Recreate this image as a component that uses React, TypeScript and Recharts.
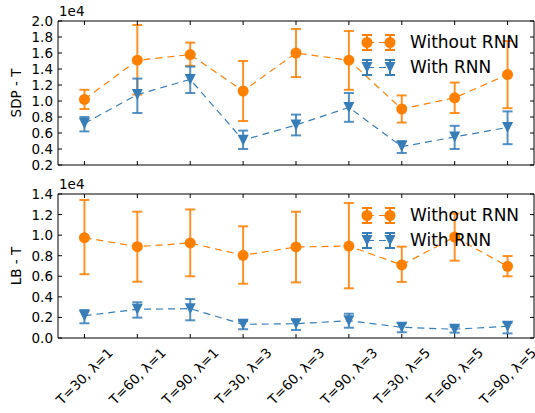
// Two stacked panels: SDP - T and LB - T, with / without RNN
import React from "react";
import { LineChart, Line, XAxis, YAxis, ErrorBar, Legend } from "recharts";

const labels = [
  "T=30, λ=1", "T=60, λ=1", "T=90, λ=1",
  "T=30, λ=3", "T=60, λ=3", "T=90, λ=3",
  "T=30, λ=5", "T=60, λ=5", "T=90, λ=5",
];

// SDP - T (raw values, axis shows them in units of 1e4)
const sdpWithout = [10200, 15100, 15800, 11250, 16000, 15100, 9000, 10400, 13300];
const sdpWithoutLow = [9000, 10800, 14400, 7500, 13000, 11400, 7300, 8500, 9100];
const sdpWithoutHigh = [11400, 19500, 17300, 15000, 19000, 18750, 10700, 12300, 17500];
const sdpWith = [7200, 10800, 12700, 5100, 7000, 9200, 4300, 5500, 6700];
const sdpWithLow = [6200, 8500, 11000, 4000, 5700, 7400, 3500, 4000, 4600];
const sdpWithHigh = [8000, 12800, 14300, 6300, 8300, 11000, 5000, 6900, 8700];

// LB - T
const lbWithout = [9750, 8880, 9240, 8040, 8850, 8940, 7100, 9820, 6970];
const lbWithoutLow = [6200, 5470, 6000, 5280, 5410, 4830, 5450, 7520, 6000];
const lbWithoutHigh = [13420, 12280, 12500, 10860, 12280, 13120, 8880, 12100, 7970];
const lbWith = [2170, 2790, 2850, 1330, 1390, 1680, 1040, 850, 1140];
const lbWithLow = [1430, 1980, 1720, 850, 780, 1000, 560, 520, 450];
const lbWithHigh = [2720, 3470, 3790, 1650, 1780, 2360, 1430, 1100, 1490];

const sdpTicks = [2000, 4000, 6000, 8000, 10000, 12000, 14000, 16000, 18000, 20000];
const lbTicks = [0, 2000, 4000, 6000, 8000, 10000, 12000, 14000];
const idxTicks = labels.map((_, i) => i);

const ORANGE = "#ff7f00";
const BLUE = "#377eb8";
const FONT = "DejaVu Sans, sans-serif";
const W = 535;

function buildRows(a, aLo, aHi, b, bLo, bHi) {
  return labels.map((name, i) => ({
    idx: i,
    name,
    without: a[i],
    withoutErr: [a[i] - aLo[i], aHi[i] - a[i]],
    with: b[i],
    withErr: [b[i] - bLo[i], bHi[i] - b[i]],
  }));
}

const sdpRows = buildRows(sdpWithout, sdpWithoutLow, sdpWithoutHigh, sdpWith, sdpWithLow, sdpWithHigh);
const lbRows = buildRows(lbWithout, lbWithoutLow, lbWithoutHigh, lbWith, lbWithLow, lbWithHigh);

const R = 5.5;
const circleDot = (p) => (
  <circle key={"c" + p.index} cx={p.cx} cy={p.cy} r={R} fill={ORANGE} />
);
const triDot = (p) => (
  <path
    key={"t" + p.index}
    d={`M${p.cx - R},${p.cy - R}L${p.cx + R},${p.cy - R}L${p.cx},${p.cy + R}Z`}
    fill={BLUE}
  />
);

// ticks point inwards, like the classic matplotlib style
const LeftTick = ({ x, y, payload }) => (
  <g>
    <line x1={x} x2={x + 4} y1={y} y2={y} stroke="#000" />
    <text x={x - 5} y={y} textAnchor="end" dominantBaseline="central" fontSize={13.5} fontFamily={FONT} fill="#000">
      {(payload.value / 1e4).toFixed(1)}
    </text>
  </g>
);
const RightTick = ({ x, y }) => <line x1={x} x2={x - 4} y1={y} y2={y} stroke="#000" />;
const TopTick = ({ x, y }) => <line x1={x} x2={x} y1={y} y2={y + 4} stroke="#000" />;
const BottomTick = ({ x, y, payload, showLabel }) => (
  <g>
    <line x1={x} x2={x} y1={y} y2={y - 4} stroke="#000" />
    {showLabel && (
      <text
        x={x}
        y={y + 38}
        textAnchor="middle"
        dominantBaseline="central"
        fontSize={13.5}
        fontFamily={FONT}
        fill="#000"
        transform={`rotate(-45 ${x} ${y + 38})`}
      >
        {labels[payload.value]}
      </text>
    )}
  </g>
);

const legendItems = [
  { name: "Without RNN", color: ORANGE, tri: false },
  { name: "With RNN", color: BLUE, tri: true },
];

const LegendMark = ({ cx, color, tri }) => (
  <g>
    <line x1={cx} x2={cx} y1={5} y2={20} stroke={color} strokeWidth={2} />
    <line x1={cx - 5} x2={cx + 5} y1={5} y2={5} stroke={color} strokeWidth={2} />
    <line x1={cx - 5} x2={cx + 5} y1={20} y2={20} stroke={color} strokeWidth={2} />
    {tri ? (
      <path d={`M${cx - R},${12.5 - R}L${cx + R},${12.5 - R}L${cx},${12.5 + R}Z`} fill={color} />
    ) : (
      <circle cx={cx} cy={12.5} r={R} fill={color} />
    )}
  </g>
);

const renderLegend = () => (
  <div style={{ fontFamily: FONT, fontSize: 17, color: "#000" }}>
    {legendItems.map((s) => (
      <div key={s.name} style={{ display: "flex", alignItems: "center", height: 25 }}>
        <svg width={52} height={25}>
          <line x1={9} x2={32} y1={12.5} y2={12.5} stroke={s.color} strokeDasharray="7 5" strokeWidth={1.2} />
          <LegendMark cx={9} color={s.color} tri={s.tri} />
          <LegendMark cx={32} color={s.color} tri={s.tri} />
        </svg>
        <span style={{ lineHeight: "25px" }}>{s.name}</span>
      </div>
    ))}
  </div>
);

function Panel({ rows, ticks, yLabel, top, height, showLabels }) {
  const domain = [ticks[0], ticks[ticks.length - 1]];
  return (
    <div style={{ position: "absolute", left: 0, top, width: W, height }}>
      <LineChart width={W} height={height} data={rows} margin={{ top: 20, right: 0, left: 57, bottom: height - 166 }}>
        <XAxis
          dataKey="idx"
          type="number"
          domain={[-0.5, 8.5]}
          ticks={idxTicks}
          interval={0}
          height={1}
          tickSize={0}
          tickMargin={0}
          stroke="#000"
          tick={(p) => <BottomTick {...p} showLabel={showLabels} />}
        />
        <XAxis
          xAxisId="top"
          orientation="top"
          dataKey="idx"
          type="number"
          domain={[-0.5, 8.5]}
          ticks={idxTicks}
          interval={0}
          height={1}
          tickSize={0}
          tickMargin={0}
          stroke="#000"
          tick={TopTick}
        />
        <YAxis
          type="number"
          domain={domain}
          ticks={ticks}
          interval={0}
          allowDataOverflow
          width={1}
          tickSize={0}
          tickMargin={0}
          stroke="#000"
          tick={LeftTick}
        />
        <YAxis
          yAxisId="right"
          orientation="right"
          type="number"
          domain={domain}
          ticks={ticks}
          interval={0}
          allowDataOverflow
          width={1}
          tickSize={0}
          tickMargin={0}
          stroke="#000"
          tick={RightTick}
        />
        <Legend
          content={renderLegend}
          layout="horizontal"
          align="center"
          verticalAlign="middle"
          wrapperStyle={{ left: 358, top: 30, width: "auto" }}
        />
        <Line
          dataKey="without"
          name="Without RNN"
          stroke={ORANGE}
          strokeWidth={1.2}
          strokeDasharray="7 5"
          dot={circleDot}
          activeDot={false}
          isAnimationActive={false}
        >
          <ErrorBar dataKey="withoutErr" width={5} strokeWidth={2} stroke={ORANGE} strokeOpacity={0.85} />
        </Line>
        <Line
          dataKey="with"
          name="With RNN"
          stroke={BLUE}
          strokeWidth={1.2}
          strokeDasharray="7 5"
          dot={triDot}
          activeDot={false}
          isAnimationActive={false}
        >
          <ErrorBar dataKey="withErr" width={5} strokeWidth={2} stroke={BLUE} strokeOpacity={0.85} />
        </Line>
      </LineChart>
      <svg width={W} height={height} style={{ position: "absolute", left: 0, top: 0, pointerEvents: "none" }}>
        <text x={59} y={16} fontSize={13.5} fontFamily={FONT} fill="#000">1e4</text>
        <text
          x={16}
          y={93}
          textAnchor="middle"
          dominantBaseline="central"
          fontSize={13.5}
          fontFamily={FONT}
          fill="#000"
          transform="rotate(-90 16 93)"
        >
          {yLabel}
        </text>
      </svg>
    </div>
  );
}

export default function App() {
  return (
    <div style={{ position: "absolute", left: 0, top: 0, width: W, height: 413, background: "#fff" }}>
      <Panel rows={sdpRows} ticks={sdpTicks} yLabel="SDP - T" top={0} height={175} showLabels={false} />
      <Panel rows={lbRows} ticks={lbTicks} yLabel="LB - T" top={173} height={240} showLabels />
    </div>
  );
}
